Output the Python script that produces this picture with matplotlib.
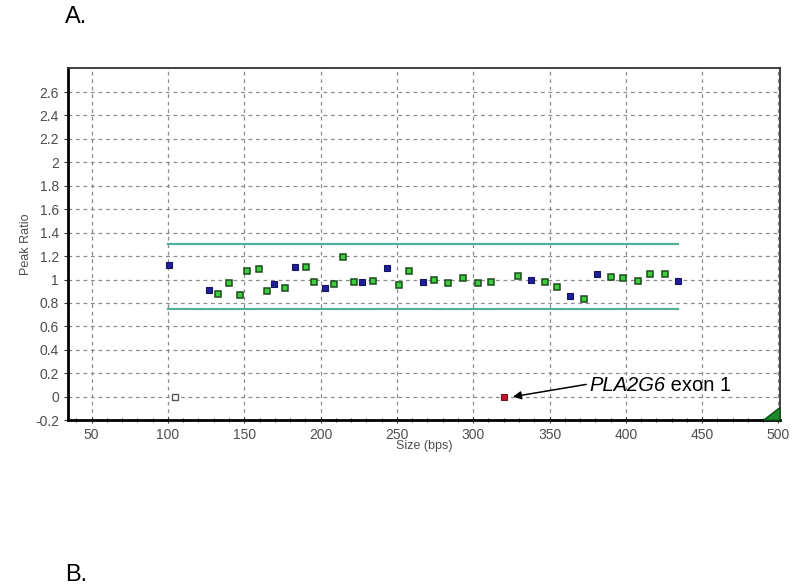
import matplotlib.pyplot as plt
from matplotlib.patches import Polygon

# probe sizes (bps) and peak ratios
blue_size = [100.5, 126.8, 169.6, 183.3, 202.9, 227.4, 243.6, 267.1, 337.8, 363.1, 381.2, 434.4]
blue_ratio = [1.12, 0.91, 0.96, 1.11, 0.93, 0.98, 1.10, 0.98, 1.00, 0.86, 1.05, 0.99]

green_size = [132.9, 140.2, 147.2, 151.8, 159.8, 164.7, 176.6, 190.4, 195.9, 208.7,
              214.8, 222.2, 234.4, 251.2, 257.6, 274.2, 283.3, 293.4, 302.9, 311.5,
              329.2, 346.9, 354.6, 372.6, 390.0, 398.0, 408.1, 415.7, 425.8]
green_ratio = [0.88, 0.97, 0.87, 1.07, 1.09, 0.90, 0.93, 1.11, 0.98, 0.96,
               1.19, 0.98, 0.99, 0.95, 1.07, 1.00, 0.97, 1.01, 0.97, 0.98,
               1.03, 0.98, 0.94, 0.83, 1.02, 1.01, 0.99, 1.05, 1.05]

gray_size = [104.4]
gray_ratio = [0.0]

deleted_size = [320.3]
deleted_ratio = [0.0]

limit_x = [100, 434]
upper_limit = 1.30
lower_limit = 0.75


def main():
    plt.rcParams['font.family'] = ['Liberation Sans', 'DejaVu Sans']
    fig = plt.figure(figsize=(8, 5.86), dpi=100)
    ax = fig.add_axes([0.085, 0.283, 0.89, 0.601])

    ax.set_xlim(34.5, 501)
    ax.set_ylim(-0.2, 2.805)
    ax.set_xticks(range(50, 501, 50))
    ax.set_xticks(range(40, 501, 10), minor=True)
    ax.set_yticks([round(-0.2 + 0.2 * i, 1) for i in range(15)])
    ax.set_yticklabels(['-0.2', '0', '0.2', '0.4', '0.6', '0.8', '1', '1.2', '1.4',
                        '1.6', '1.8', '2', '2.2', '2.4', '2.6'])

    ax.grid(True, which='major', color='#8c8c8c', linestyle=(0, (3, 3)), linewidth=0.9)
    ax.set_axisbelow(True)

    ax.plot(limit_x, [upper_limit, upper_limit], color='#55b09a', linewidth=1.6, zorder=2)
    ax.plot(limit_x, [lower_limit, lower_limit], color='#55b09a', linewidth=1.6, zorder=2)

    ax.plot(green_size, green_ratio, 's', markersize=4.6, markerfacecolor='#3ccf3c',
            markeredgecolor='#1d4a1d', markeredgewidth=1.1, zorder=3)
    ax.plot(blue_size, blue_ratio, 's', markersize=4.6, markerfacecolor='#1f1f9a',
            markeredgecolor='#141460', markeredgewidth=0.8, zorder=3)
    ax.plot(gray_size, gray_ratio, 's', markersize=4.2, markerfacecolor='white',
            markeredgecolor='#555555', markeredgewidth=1.0, zorder=3)
    ax.plot(deleted_size, deleted_ratio, 's', markersize=4.2, markerfacecolor='#c8102e',
            markeredgecolor='#6a1a1a', markeredgewidth=0.8, zorder=3)

    # annotation: italic gene name, plain rest, arrow to the deleted probe
    gene = ax.text(376, 0.094, 'PLA2G6', fontsize=14.5, fontstyle='italic',
                   va='center', ha='left')
    ax.annotate(' exon 1', xy=(1, 0), xycoords=gene, fontsize=14.5,
                va='bottom', ha='left')
    ax.annotate('', xy=(326, 0.0), xytext=(374, 0.105),
                arrowprops=dict(arrowstyle='-|>', color='black', linewidth=1.1,
                                mutation_scale=12, shrinkA=0, shrinkB=0))

    # small green grip triangle in the lower right corner
    ax.add_patch(Polygon([(1.0, 0.0), (1.0, 0.036), (0.977, 0.0)], closed=True,
                         transform=ax.transAxes, facecolor='#1f8a2a',
                         edgecolor='#0f4f15', clip_on=False, zorder=5))

    for side in ['left', 'bottom']:
        ax.spines[side].set_linewidth(2.0)
        ax.spines[side].set_color('black')
    for side in ['top', 'right']:
        ax.spines[side].set_linewidth(1.3)
        ax.spines[side].set_color('#333333')

    ax.tick_params(axis='both', which='major', labelsize=10, labelcolor='#4d4d4d',
                   direction='out', length=3, color='#333333')
    ax.tick_params(axis='x', which='minor', direction='inout', length=3, color='#333333')
    ax.tick_params(axis='x', which='major', direction='inout', length=5, pad=3)

    ax.set_xlabel('Size (bps)', fontsize=9, color='#4d4d4d', labelpad=-1)
    ax.set_ylabel('Peak Ratio', fontsize=9, color='#4d4d4d', labelpad=2)

    fig.text(0.081, 0.99, 'A.', fontsize=17, va='top', ha='left')
    fig.text(0.081, 0.0, 'B.', fontsize=17, va='bottom', ha='left')

    fig.savefig('out.png', dpi=100)


if __name__ == '__main__':
    main()
